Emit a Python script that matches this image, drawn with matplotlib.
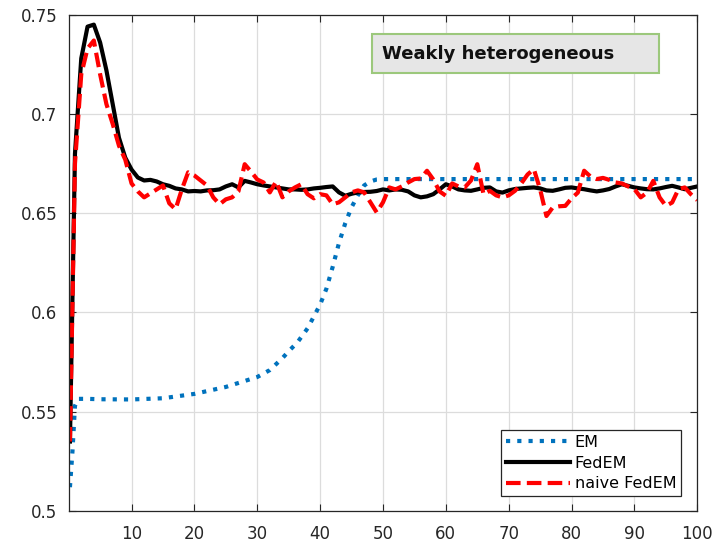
import numpy as np
import matplotlib
matplotlib.use('Agg')
import matplotlib.pyplot as plt
from matplotlib.patches import Rectangle

# iteration axis shared by FedEM / naive FedEM
iters = [0.2] + list(range(1, 101))

fedem = [0.535, 0.680, 0.728, 0.744, 0.745, 0.736, 0.722, 0.705, 0.688, 0.678, 0.672,
         0.668, 0.6665, 0.6668, 0.666, 0.6646, 0.6638, 0.6625, 0.662, 0.661, 0.6612,
         0.661, 0.6615, 0.6616, 0.662, 0.6635, 0.6646, 0.663, 0.6663, 0.6655, 0.6646,
         0.664, 0.6635, 0.663, 0.6625, 0.662, 0.662, 0.6618, 0.662, 0.6625, 0.6628,
         0.6632, 0.6635, 0.6605, 0.6588, 0.6598, 0.6605, 0.6607, 0.6608, 0.6612, 0.662,
         0.6615, 0.662, 0.6618, 0.661, 0.659, 0.658, 0.6585, 0.6596, 0.662, 0.6646,
         0.6635, 0.662, 0.6615, 0.6613, 0.662, 0.6628, 0.663, 0.661, 0.6604, 0.6615,
         0.6622, 0.6625, 0.6628, 0.663, 0.6625, 0.6615, 0.6613, 0.662, 0.6628, 0.663,
         0.6625, 0.6621, 0.6615, 0.661, 0.6615, 0.6622, 0.6635, 0.6646, 0.6638, 0.663,
         0.6625, 0.6621, 0.662, 0.6625, 0.6632, 0.6638, 0.663, 0.6621, 0.6628, 0.6635]

naive = [0.535, 0.675, 0.720, 0.733, 0.737, 0.720, 0.705, 0.695, 0.684, 0.677, 0.665,
         0.661, 0.658, 0.660, 0.662, 0.664, 0.655, 0.652, 0.662, 0.6706, 0.669,
         0.6665, 0.664, 0.658, 0.6545, 0.657, 0.658, 0.661, 0.6747, 0.671, 0.667,
         0.6655, 0.6605, 0.666, 0.658, 0.661, 0.663, 0.6646, 0.6596, 0.6575, 0.6596,
         0.659, 0.6545, 0.6555, 0.658, 0.6605, 0.6615, 0.6605, 0.6555, 0.6504, 0.6555,
         0.663, 0.662, 0.6635, 0.6655, 0.6672, 0.6675, 0.6714, 0.667, 0.661, 0.6588,
         0.665, 0.6635, 0.663, 0.6665, 0.6747, 0.6595, 0.6613, 0.659, 0.658, 0.659,
         0.6613, 0.665, 0.6695, 0.6722, 0.662, 0.6486, 0.6529, 0.6535, 0.6537, 0.6575,
         0.6604, 0.6714, 0.6685, 0.6672, 0.6678, 0.6668, 0.6655, 0.665, 0.6635, 0.6621,
         0.658, 0.6604, 0.6663, 0.658, 0.6537, 0.6554, 0.6621, 0.663, 0.6595, 0.6566]

# centralized EM
em_x = [0.2, 0.6, 1, 1.5, 3, 5, 10, 15, 20, 25, 30, 32, 34, 35, 36.4, 38, 40, 41, 42,
        43, 44, 45, 46, 47, 48, 49, 50, 60, 70, 80, 90, 100]
em_y = [0.512, 0.530, 0.553, 0.5565, 0.5565, 0.5563, 0.5562, 0.5568, 0.559, 0.5625,
        0.5675, 0.571, 0.577, 0.5805, 0.585, 0.592, 0.604, 0.612, 0.623, 0.635, 0.645,
        0.653, 0.659, 0.664, 0.666, 0.667, 0.6672, 0.6672, 0.6672, 0.6672, 0.6672, 0.6672]

xticks = list(range(10, 101, 10))
yticks = [0.5, 0.55, 0.6, 0.65, 0.7, 0.75]
ytick_labels = ['0.5', '0.55', '0.6', '0.65', '0.7', '0.75']

dark = '#262626'
fig = plt.figure(figsize=(7.14, 5.43), dpi=100)
ax = fig.add_axes([0.0962, 0.0589, 0.8804, 0.914])

ax.plot(em_x, em_y, color='#0072BD', lw=3, linestyle=(0, (1, 1.7)),
        dash_capstyle='butt', label='EM')
ax.plot(iters, fedem, color='black', lw=3, label='FedEM')
ax.plot(iters, naive, color='red', lw=3, linestyle=(0, (3.5, 1.5)),
        dash_capstyle='butt', label='naive FedEM')

ax.set_xlim(0, 100)
ax.set_ylim(0.5, 0.75)
ax.set_xticks(xticks)
ax.set_yticks(yticks)
ax.set_yticklabels(ytick_labels)
ax.tick_params(direction='in', length=5, width=0.8, colors=dark, labelsize=12,
               top=True, right=True, pad=8)
ax.tick_params(axis='x', pad=10)
for s in ax.spines.values():
    s.set_color(dark)
    s.set_linewidth(0.9)
ax.grid(True, color='#dcdcdc', linewidth=0.9)
ax.set_axisbelow(True)

leg = ax.legend(loc='lower right', bbox_to_anchor=(0.9745, 0.0302), borderaxespad=0,
                fontsize=11.5, handlelength=4.0, fancybox=False, framealpha=1,
                edgecolor=dark, borderpad=0.3, labelspacing=0.35, handletextpad=0.3)
leg.get_frame().set_linewidth(0.9)

# annotation box in the upper right
ax.add_patch(Rectangle((0.4825, 0.8825), 0.4565, 0.0785, transform=ax.transAxes,
                       facecolor='#e6e6e6', edgecolor='#9cc87c', lw=1.5, zorder=5))
ax.text(0.4984, 0.9218, 'Weakly heterogeneous', transform=ax.transAxes,
        fontsize=13, fontweight='bold', color='#111111', va='center', ha='left', zorder=6)

fig.savefig('out.png', dpi=100)
